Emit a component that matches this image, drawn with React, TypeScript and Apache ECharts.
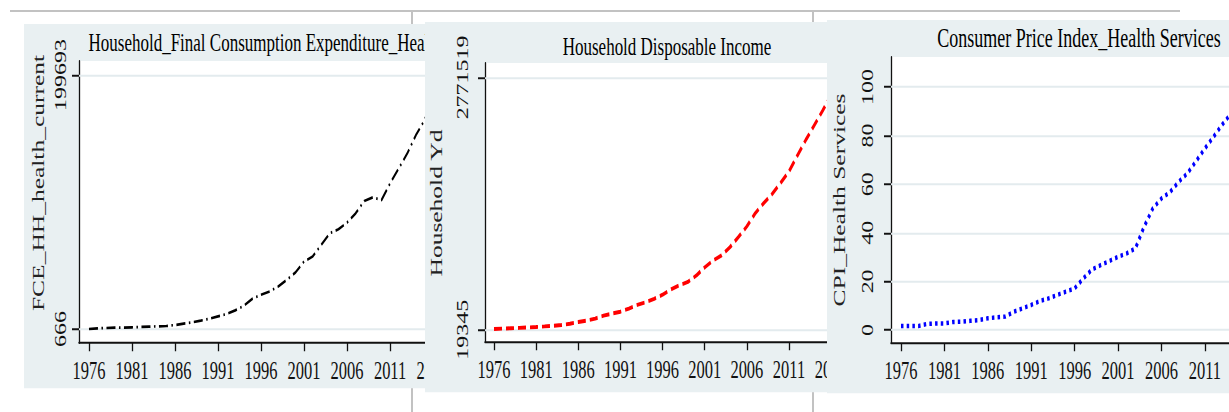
import React, { useEffect, useRef } from "react";
import * as echarts from "echarts";

const years = [
  1976, 1977, 1978, 1979, 1980, 1981, 1982, 1983, 1984, 1985,
  1986, 1987, 1988, 1989, 1990, 1991, 1992, 1993, 1994, 1995,
  1996, 1997, 1998, 1999, 2000, 2001, 2002, 2003, 2004, 2005,
  2006, 2007, 2008, 2009, 2010, 2011, 2012, 2013, 2014, 2015,
  2016, 2017,
];

const fceHealth = [
  666, 1190, 1450, 1700, 1750, 2000, 2230, 2490, 2750, 3010,
  3790, 4830, 5880, 7180, 8740, 10560, 12390, 15250, 18900, 24370,
  27500, 30100, 34000, 39220, 44950, 53550, 57450, 66570, 75700, 78800,
  84000, 91300, 101000, 103800, 101700, 114700, 126400, 138200, 152500, 164200,
  181000, 199693,
];

const householdYd = [
  26600, 31000, 35000, 39000, 43500, 48400, 55000, 62000, 70000, 84000,
  103000, 118000, 140000, 172000, 195000, 215300, 250000, 290000, 318000, 356000,
  401100, 460000, 505000, 540000, 610000, 699200, 775000, 830000, 920000, 1030000,
  1146400, 1290000, 1400000, 1500000, 1620000, 1746300, 1920000, 2090000, 2250000, 2410000,
  2580000, 2771519,
];

const cpiHealth = [
  1.6, 1.6, 1.6, 2.5, 2.7, 2.7, 3.3, 3.4, 3.8, 4.1,
  4.8, 5.2, 5.5, 7.5, 8.9, 10.3, 11.9, 13.0, 14.4, 15.8,
  17.1, 21.2, 24.9, 26.7, 28.4, 30.1, 31.5, 33.6, 42.5, 50.0,
  54.1, 56.8, 61.0, 64.5, 69.5, 74.7, 79.5, 84.5, 89.0, 94.0,
  100.0, 106.0,
];

const xTickYears = [1976, 1981, 1986, 1991, 1996, 2001, 2006, 2011, 2016];
const xTickYearsVisible = [1976, 1981, 1986, 1991, 1996, 2001, 2006, 2011];
const fceTicks = [666, 199693];
const ydTicks = [19345, 2771519];
const cpiTicks = [0, 20, 40, 60, 80, 100];

const titles = [
  "Household_Final Consumption Expenditure_Health",
  "Household Disposable Income",
  "Consumer Price Index_Health Services",
];
const yNames = ["FCE_HH_health_current", "Household Yd", "CPI_Health Services"];

const S = 1.5;
const FONT = '"Liberation Serif", "Times New Roman", serif';
const BG = "#e9f0f2";
const GRIDC = "#e3ebee";

type Panel = {
  left: number;
  top: number;
  width: number;
  hImg: number;
  grid: { left: number; top: number; width: number; height: number };
  xMin: number;
  xMax: number;
  xTicks: number[];
  yMin: number;
  yMax: number;
  yTicks: number[];
  values: number[];
  title: string;
  titleX: number;
  titleY: number;
  titleSize: number;
  yName: string;
  yNameX: number;
  yNameY: number;
  yLabelMargin: number;
  line: any;
};

const panels: Panel[] = [
  {
    left: 24, top: 24, width: 470, hImg: 365,
    grid: { left: 55, top: (61 - 24) / S, width: 373, height: (343 - 61) / S },
    xMin: 1974.84, xMax: 2018.2, xTicks: xTickYears,
    yMin: -10304, yMax: 210663,
    yTicks: fceTicks, values: fceHealth,
    title: titles[0], titleX: 241.5, titleY: (43 - 24) / S, titleSize: 17,
    yName: yNames[0], yNameX: 15, yNameY: (183 - 24) / S, yLabelMargin: 10,
    line: { color: "#000", width: 1.8, type: [9, 3.5, 1.5, 3.5], cap: "butt" },
  },
  {
    left: 425, top: 22, width: 440, hImg: 370,
    grid: { left: 60, top: (63 - 22) / S, width: 363.6, height: (342 - 63) / S },
    xMin: 1974.93, xMax: 2018.07, xTicks: xTickYears,
    yMin: -114983, yMax: 2928782,
    yTicks: ydTicks, values: householdYd,
    title: titles[1], titleX: 242, titleY: (47 - 22) / S, titleSize: 17,
    yName: yNames[1], yNameX: 12, yNameY: (203 - 22) / S, yLabelMargin: 14,
    line: { color: "#ff0000", width: 2.6, type: [8, 4], cap: "butt" },
  },
  {
    left: 827, top: 20, width: 460, hImg: 373,
    grid: { left: 64, top: (57 - 20) / S, width: 376, height: (343 - 57) / S },
    xMin: 1974.85, xMax: 2018.15, xTicks: xTickYearsVisible,
    yMin: -5.35, yMax: 112.3,
    yTicks: cpiTicks, values: cpiHealth,
    title: titles[2], titleX: 252, titleY: (38 - 20) / S, titleSize: 18,
    yName: yNames[2], yNameX: 13, yNameY: (200 - 20) / S, yLabelMargin: 15,
    line: { color: "#0000ff", width: 3, type: [2.5, 3.2], cap: "butt" },
  },
];

function buildOption(p: Panel) {
  const axisLine = { show: true, onZero: false, lineStyle: { color: "#111", width: 1.3 } };
  return {
    animation: false,
    backgroundColor: BG,
    textStyle: { fontFamily: FONT },
    grid: {
      ...p.grid,
      show: true,
      backgroundColor: "#ffffff",
      borderWidth: 0,
      containLabel: false,
    },
    xAxis: {
      type: "value",
      min: p.xMin,
      max: p.xMax,
      axisLine,
      axisTick: {
        show: true,
        length: 5.5,
        customValues: p.xTicks,
        lineStyle: { color: "#111", width: 1.3 },
      },
      axisLabel: {
        customValues: p.xTicks,
        fontSize: 16.5,
        fontFamily: FONT,
        color: "#111",
        margin: 10,
        formatter: (v: number) => String(v),
      },
      splitLine: { show: false },
    },
    yAxis: {
      type: "value",
      min: p.yMin,
      max: p.yMax,
      axisLine,
      axisTick: {
        show: true,
        length: 7,
        customValues: p.yTicks,
        lineStyle: { color: "#111", width: 1.3 },
      },
      axisLabel: {
        customValues: p.yTicks,
        rotate: 90,
        fontSize: 16,
        fontFamily: FONT,
        color: "#111",
        margin: p.yLabelMargin,
        formatter: (v: number) => String(v),
      },
      splitLine: { show: false },
    },
    series: [
      {
        type: "line",
        data: years.map((y, i) => [y, p.values[i]]),
        showSymbol: false,
        symbol: "none",
        z: 3,
        lineStyle: p.line,
        markLine: {
          silent: true,
          z: 1,
          symbol: "none",
          label: { show: false },
          lineStyle: { color: GRIDC, width: 1.4, type: "solid" },
          data: p.yTicks.map((v) => ({ yAxis: v })),
        },
      },
    ],
    graphic: [
      {
        type: "text",
        x: p.titleX,
        y: p.titleY,
        z: 10,
        style: {
          text: p.title,
          fontSize: p.titleSize,
          fontFamily: FONT,
          fill: "#000",
          align: "center",
          verticalAlign: "middle",
        },
      },
      {
        type: "text",
        x: p.yNameX,
        y: p.yNameY,
        rotation: Math.PI / 2,
        z: 10,
        style: {
          text: p.yName,
          fontSize: 17,
          fontFamily: FONT,
          fill: "#222",
          align: "center",
          verticalAlign: "middle",
        },
      },
    ],
  };
}

function ChartPanel({ p, z }: { p: Panel; z: number }) {
  const ref = useRef<HTMLDivElement>(null);
  useEffect(() => {
    if (!ref.current) return;
    const chart = echarts.init(ref.current, null, { renderer: "svg" });
    chart.setOption(buildOption(p) as any);
    return () => chart.dispose();
  }, [p]);
  return (
    <div
      ref={ref}
      style={{
        position: "absolute",
        left: p.left,
        top: p.top,
        width: p.width,
        height: p.hImg / S,
        transform: `scaleY(${S})`,
        transformOrigin: "0 0",
        zIndex: z,
      }}
    />
  );
}

function Backdrop() {
  const ref = useRef<HTMLDivElement>(null);
  useEffect(() => {
    if (!ref.current) return;
    const chart = echarts.init(ref.current, null, { renderer: "svg" });
    const ls = { stroke: "#c2c2c2", lineWidth: 2 };
    chart.setOption({
      animation: false,
      backgroundColor: "#ffffff",
      graphic: [
        { type: "line", shape: { x1: 10, y1: 11, x2: 1180, y2: 11 }, style: ls },
        { type: "line", shape: { x1: 412, y1: 11, x2: 412, y2: 412 }, style: ls },
        { type: "line", shape: { x1: 813, y1: 11, x2: 813, y2: 412 }, style: ls },
      ],
    } as any);
    return () => chart.dispose();
  }, []);
  return (
    <div
      ref={ref}
      style={{ position: "absolute", left: 0, top: 0, width: 1229, height: 412, zIndex: 0 }}
    />
  );
}

export default function App() {
  return (
    <div
      style={{
        position: "absolute",
        left: 0,
        top: 0,
        width: 1229,
        height: 412,
        overflow: "hidden",
        background: "#fff",
      }}
    >
      <Backdrop />
      {panels.map((p, i) => (
        <ChartPanel key={i} p={p} z={i + 1} />
      ))}
    </div>
  );
}
